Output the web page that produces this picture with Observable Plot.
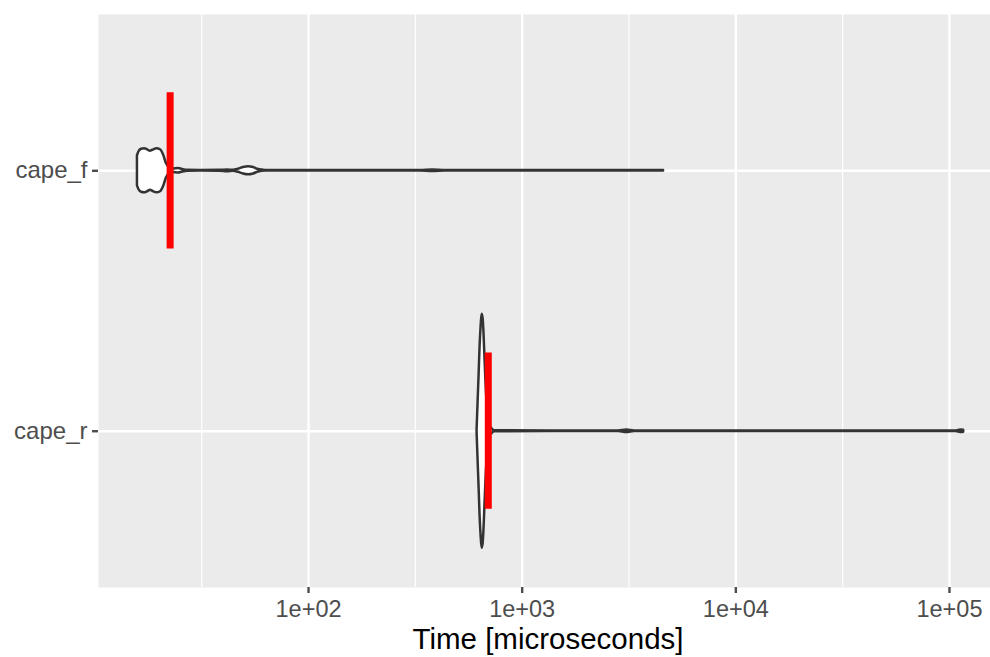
<!DOCTYPE html>
<html>
<head>
<meta charset="utf-8">
<script src="https://cdn.jsdelivr.net/npm/d3@7"></script>
<script src="https://cdn.jsdelivr.net/npm/@observablehq/plot@0.6"></script>
<style>
  html, body { margin: 0; padding: 0; background: #fff; }
  #chart svg { display: block; }
  #xtitle { font-family: "Liberation Sans", Arial, sans-serif; font-size: 29.5px; line-height: 34px; color: #000;
            width: 884px; padding-left: 106px; text-align: center; white-space: nowrap; }
</style>
</head>
<body>
<div id="chart"></div>
<div id="xtitle">Time [microseconds]</div>
<script>
// Categories (top to bottom)
const categories = ["cape_f", "cape_r"];

// Violin outline of cape_f: time (µs) and half-width (in category units)
const fTime = [15.82, 16.09, 16.53, 17.07, 17.64, 18.21, 18.65, 19.53, 20.28, 20.95, 21.64, 22.36, 23.08, 23.84, 24.63, 25.71, 27.13, 31.2, 38.7, 41.77, 44.56, 47.0, 49.6, 52.4, 55.3, 58.33, 62.9, 91.7, 334, 381, 438, 1358, 4590];
const fHalf = [0.0576, 0.073, 0.0825, 0.0845, 0.0806, 0.0749, 0.0787, 0.0845, 0.0806, 0.0614, 0.0269, 0.0115, 0.0058, 0.0077, 0.0088, 0.005, 0.0019, 0.0013, 0.0017, 0.0033, 0.0017, 0.0058, 0.0123, 0.0154, 0.0123, 0.0046, 0.0013, 0.001, 0.001, 0.0028, 0.001, 0.001, 0.001];

// Violin outline of cape_r
const rTime = [615, 622, 629, 635, 642, 649, 656, 663, 670, 678, 689, 704, 719, 743, 1358, 2827, 3082, 3360, 20110, 106900, 110400, 114050, 116560];
const rHalf = [0.004, 0.115, 0.223, 0.322, 0.399, 0.449, 0.434, 0.372, 0.276, 0.177, 0.077, 0.023, 0.0115, 0.002, 0.001, 0.001, 0.005, 0.001, 0.001, 0.001, 0.003, 0.005, 0.004];

// Medians (red bars)
const medians = [22.5, 694];

// Axis ticks
const xMajor = [1e2, 1e3, 1e4, 1e5];
const xTickLabels = ["1e+02", "1e+03", "1e+04", "1e+05"];
const xMinor = [31.62, 316.2, 3162, 31623];

const violins = [
  ...fTime.map((t, i) => ({cat: 1, t, hw: fHalf[i]})),
  ...rTime.map((t, i) => ({cat: 2, t, hw: rHalf[i]}))
];
const medData = medians.map((m, i) => ({cat: i + 1, m}));

const chart = Plot.plot({
  width: 990,
  height: 622,
  marginLeft: 98,
  marginRight: 0,
  marginTop: 14,
  marginBottom: 35,
  style: {fontFamily: "Liberation Sans, Arial, sans-serif", background: "#fff"},
  x: {type: "log", domain: [Math.pow(10, 1.0169), Math.pow(10, 5.192)]},
  y: {domain: [0.4, 2.6], reverse: true},
  marks: [
    Plot.frame({fill: "#EBEBEB", stroke: "none"}),
    Plot.ruleX(xMinor, {stroke: "#fff", strokeWidth: 1.2}),
    Plot.ruleX(xMajor, {stroke: "#fff", strokeWidth: 2.4}),
    Plot.ruleY([1, 2], {stroke: "#fff", strokeWidth: 2.4}),
    Plot.areaY(violins, {
      z: "cat",
      x: "t",
      y1: d => d.cat - d.hw,
      y2: d => d.cat + d.hw,
      fill: "white",
      stroke: "#333333",
      strokeWidth: 2.5,
      strokeLinejoin: "round",
      curve: "monotone-x"
    }),
    Plot.ruleX(medData, {x: "m", y1: d => d.cat - 0.3, y2: d => d.cat + 0.3, stroke: "#FF0000", strokeWidth: 7}),
    Plot.axisX({
      ticks: xMajor,
      tickFormat: (d) => xTickLabels[xMajor.indexOf(d)],
      tickSize: 6,
      tickPadding: 7,
      strokeWidth: 2.4,
      color: "#4D4D4D",
      fontSize: 23.5,
      label: null
    }),
    Plot.axisY({
      ticks: [1, 2],
      tickFormat: (d) => categories[d - 1],
      tickSize: 6,
      tickPadding: 5,
      strokeWidth: 2.4,
      color: "#4D4D4D",
      fontSize: 24,
      label: null
    })
  ]
});
document.getElementById("chart").appendChild(chart);
</script>
</body>
</html>
